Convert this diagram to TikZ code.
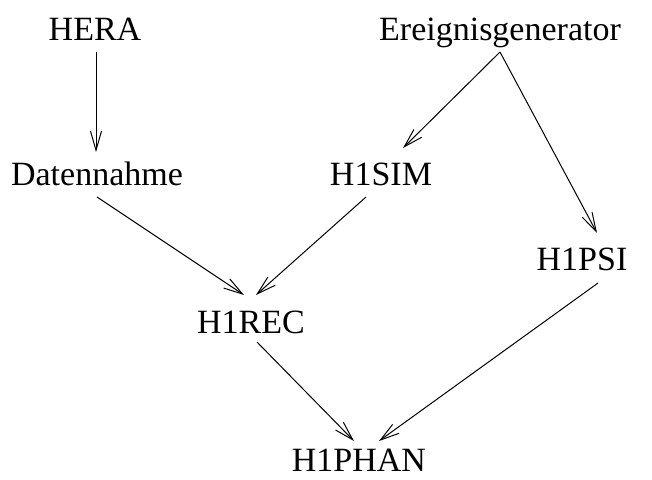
\documentclass[tikz,border=0pt]{standalone}
\usepackage{fontspec}
\setmainfont{Liberation Serif}
\usetikzlibrary{arrows.meta}
\begin{document}
\begin{tikzpicture}[x=0.5pt,y=-0.5pt,
  lbl/.style={inner sep=0pt,anchor=base,font=\fontsize{17pt}{20pt}\selectfont},
  conn/.style={line width=0.5pt,-{Straight Barb[length=9.5pt,width=5.5pt,line width=0.5pt]}}]
\useasboundingbox (0,0) rectangle (652,479);
\node[lbl] (hera)  at (95,40)  {HERA};
\node[lbl] (ereig) at (500,40) {Ereignisgenerator};
\node[lbl] (daten) at (97,185) {Datennahme};
\node[lbl] (sim)   at (381,185) {H1SIM};
\node[lbl] (psi)   at (582,270) {H1PSI};
\node[lbl] (rec)   at (251,333) {H1REC};
\node[lbl] (phan)  at (359,471) {H1PHAN};
\draw[conn] ([shift={(1,12)}]hera.base) -- ([shift={(-1,-33)}]daten.base);
\draw[conn] ([shift={(0,12)}]ereig.base) -- ([shift={(22,-37)}]sim.base);
\draw[conn] ([shift={(0,12)}]ereig.base) -- ([shift={(15,-37)}]psi.base);
\draw[conn] ([shift={(0,12)}]daten.base) -- ([shift={(-7,-38)}]rec.base);
\draw[conn] ([shift={(-15,12)}]sim.base) -- ([shift={(5,-38)}]rec.base);
\draw[conn] ([shift={(16,13)}]psi.base) -- ([shift={(20,-30)}]phan.base);
\draw[conn] ([shift={(6,9)}]rec.base) -- ([shift={(-5,-30)}]phan.base);
\end{tikzpicture}
\end{document}
